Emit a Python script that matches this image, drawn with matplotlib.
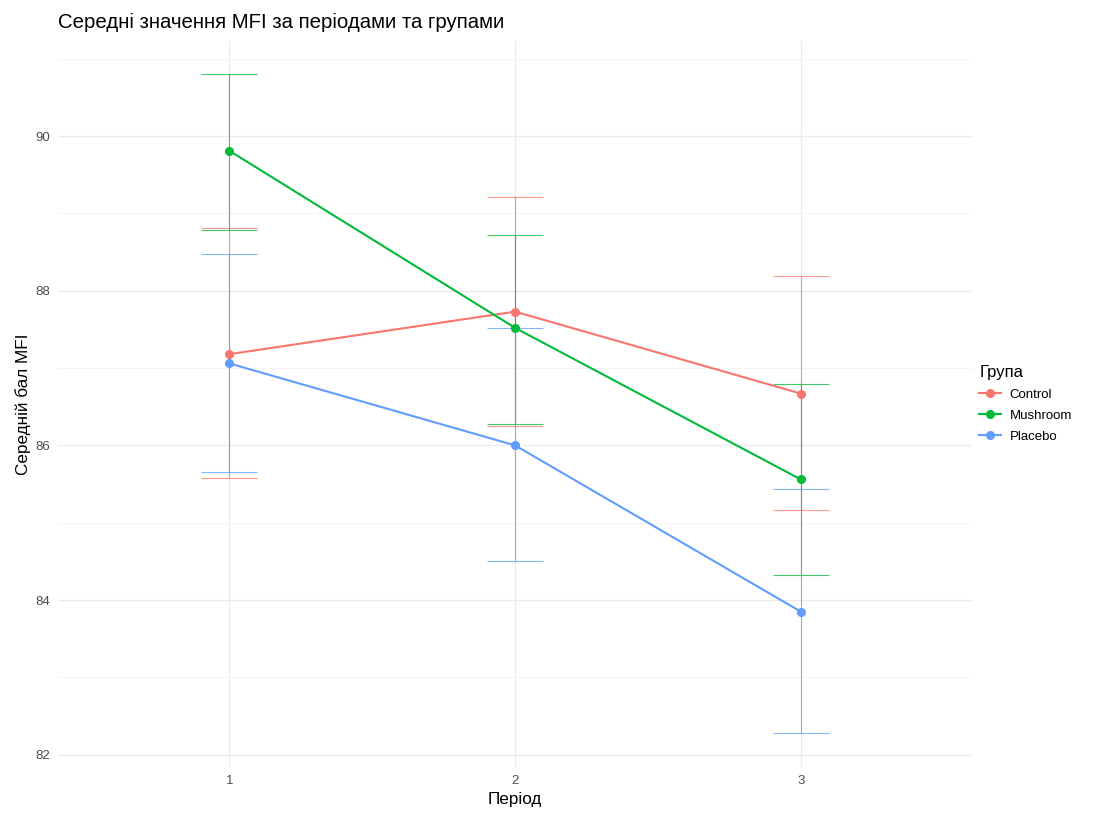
import matplotlib
matplotlib.use("Agg")
import matplotlib.pyplot as plt
from matplotlib.lines import Line2D
from matplotlib.ticker import MultipleLocator, FixedLocator

plt.rcParams['font.family'] = ['Liberation Sans', 'DejaVu Sans']

periods = [1, 2, 3]
groups = ["Control", "Mushroom", "Placebo"]
colors = ["#F8766D", "#00BA38", "#619CFF"]
means = {
    "Control":  [87.18, 87.73, 86.67],
    "Mushroom": [89.81, 87.52, 85.56],
    "Placebo":  [87.06, 86.00, 83.85],
}
lower = {
    "Control":  [85.58, 86.25, 85.16],
    "Mushroom": [88.79, 86.28, 84.33],
    "Placebo":  [85.65, 84.50, 82.28],
}
upper = {
    "Control":  [88.81, 89.21, 88.19],
    "Mushroom": [90.80, 88.72, 86.79],
    "Placebo":  [88.47, 87.52, 85.44],
}

fig = plt.figure(figsize=(11.01, 8.14), dpi=100)
ax = fig.add_axes([0.0527, 0.0577, 0.883 - 0.0527, 0.9496 - 0.0577])

for g, c in zip(groups, colors):
    m = means[g]
    lo = [mm - l for mm, l in zip(m, lower[g])]
    hi = [u - mm for mm, u in zip(m, upper[g])]
    ax.errorbar(periods, m, yerr=[lo, hi], fmt='none', ecolor=c, elinewidth=0.8,
                capsize=20.5, capthick=0.8, alpha=0.75, zorder=2)
for g, c in zip(groups, colors):
    ax.plot(periods, means[g], color=c, lw=1.5, marker='o', markersize=5.5,
            zorder=3, solid_capstyle='butt')

ax.set_xlim(0.4, 3.6)
ax.set_ylim(81.84, 91.23)
ax.xaxis.set_major_locator(FixedLocator(periods))
ax.set_xticklabels([str(p) for p in periods])
ax.yaxis.set_major_locator(MultipleLocator(2))
ax.yaxis.set_minor_locator(MultipleLocator(1))
ax.grid(which='major', color='#EBEBEB', lw=0.9)
ax.grid(which='minor', axis='y', color='#F2F2F2', lw=0.6)
ax.set_axisbelow(True)
for s in ax.spines.values():
    s.set_visible(False)
ax.tick_params(which='both', length=0, labelsize=9.5, labelcolor='#4D4D4D', pad=6)

ax.set_xlabel("Період", fontsize=12.3, labelpad=3)
ax.set_ylabel("Середній бал MFI", fontsize=12.3, labelpad=3)
fig.text(0.0527, 0.973, "Середні значення MFI за періодами та групами",
         fontsize=14.7, ha='left', va='center')

handles = [Line2D([0], [0], color=c, lw=1.5, marker='o', markersize=5.5) for c in colors]
leg = ax.legend(handles, groups, title="Група", loc='center left',
                bbox_to_anchor=(0.995, 0.5), frameon=False, fontsize=9.5,
                title_fontsize=12, handlelength=1.6, alignment='left',
                labelspacing=0.66, handletextpad=0.7)
fig.savefig("out.png", dpi=100)
